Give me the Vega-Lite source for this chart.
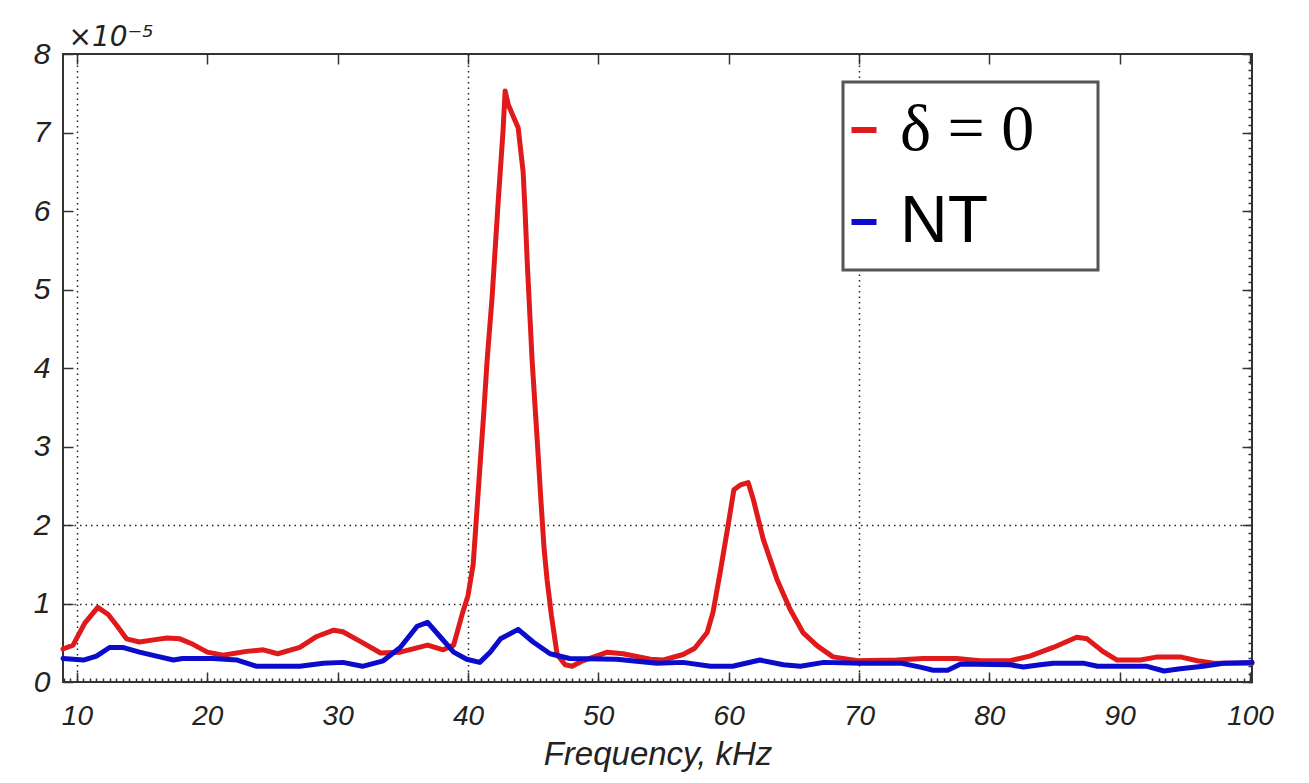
{
  "$schema": "https://vega.github.io/schema/vega-lite/v6.json",
  "width": 1189,
  "height": 628,
  "autosize": {"type": "none"},
  "padding": {"left": 63, "top": 54, "right": 57, "bottom": 101},
  "background": "white",
  "config": {
    "view": {"stroke": "#333", "strokeWidth": 2},
    "axis": {"domain": false, "tickColor": "#333", "tickWidth": 1.5, "grid": false}
  },
  "data": {"values": [
    {"f": 8.93, "amp": 0.42, "series": "δ = 0"},
    {"f": 9.7, "amp": 0.47, "series": "δ = 0"},
    {"f": 10.6, "amp": 0.75, "series": "δ = 0"},
    {"f": 11.6, "amp": 0.95, "series": "δ = 0"},
    {"f": 12.4, "amp": 0.86, "series": "δ = 0"},
    {"f": 13.1, "amp": 0.71, "series": "δ = 0"},
    {"f": 13.8, "amp": 0.55, "series": "δ = 0"},
    {"f": 14.8, "amp": 0.51, "series": "δ = 0"},
    {"f": 16.0, "amp": 0.54, "series": "δ = 0"},
    {"f": 16.9, "amp": 0.56, "series": "δ = 0"},
    {"f": 17.9, "amp": 0.55, "series": "δ = 0"},
    {"f": 18.9, "amp": 0.48, "series": "δ = 0"},
    {"f": 20.0, "amp": 0.38, "series": "δ = 0"},
    {"f": 21.2, "amp": 0.34, "series": "δ = 0"},
    {"f": 23.0, "amp": 0.39, "series": "δ = 0"},
    {"f": 24.3, "amp": 0.41, "series": "δ = 0"},
    {"f": 25.4, "amp": 0.36, "series": "δ = 0"},
    {"f": 27.1, "amp": 0.44, "series": "δ = 0"},
    {"f": 28.4, "amp": 0.58, "series": "δ = 0"},
    {"f": 29.7, "amp": 0.66, "series": "δ = 0"},
    {"f": 30.4, "amp": 0.64, "series": "δ = 0"},
    {"f": 31.7, "amp": 0.52, "series": "δ = 0"},
    {"f": 33.3, "amp": 0.37, "series": "δ = 0"},
    {"f": 34.8, "amp": 0.38, "series": "δ = 0"},
    {"f": 36.9, "amp": 0.47, "series": "δ = 0"},
    {"f": 38.1, "amp": 0.41, "series": "δ = 0"},
    {"f": 38.9, "amp": 0.47, "series": "δ = 0"},
    {"f": 39.6, "amp": 0.89, "series": "δ = 0"},
    {"f": 40.0, "amp": 1.1, "series": "δ = 0"},
    {"f": 40.4, "amp": 1.5, "series": "δ = 0"},
    {"f": 40.9, "amp": 2.7, "series": "δ = 0"},
    {"f": 41.2, "amp": 3.4, "series": "δ = 0"},
    {"f": 41.47, "amp": 4.1, "series": "δ = 0"},
    {"f": 41.85, "amp": 4.9, "series": "δ = 0"},
    {"f": 42.08, "amp": 5.5, "series": "δ = 0"},
    {"f": 42.31, "amp": 6.1, "series": "δ = 0"},
    {"f": 42.69, "amp": 7.02, "series": "δ = 0"},
    {"f": 42.85, "amp": 7.53, "series": "δ = 0"},
    {"f": 43.1, "amp": 7.35, "series": "δ = 0"},
    {"f": 43.85, "amp": 7.06, "series": "δ = 0"},
    {"f": 44.23, "amp": 6.5, "series": "δ = 0"},
    {"f": 44.38, "amp": 6.0, "series": "δ = 0"},
    {"f": 44.54, "amp": 5.37, "series": "δ = 0"},
    {"f": 44.77, "amp": 4.6, "series": "δ = 0"},
    {"f": 44.92, "amp": 4.1, "series": "δ = 0"},
    {"f": 45.15, "amp": 3.5, "series": "δ = 0"},
    {"f": 45.38, "amp": 2.9, "series": "δ = 0"},
    {"f": 45.6, "amp": 2.3, "series": "δ = 0"},
    {"f": 45.84, "amp": 1.7, "series": "δ = 0"},
    {"f": 46.07, "amp": 1.3, "series": "δ = 0"},
    {"f": 46.4, "amp": 0.85, "series": "δ = 0"},
    {"f": 46.84, "amp": 0.35, "series": "δ = 0"},
    {"f": 47.45, "amp": 0.22, "series": "δ = 0"},
    {"f": 48.0, "amp": 0.2, "series": "δ = 0"},
    {"f": 48.8, "amp": 0.27, "series": "δ = 0"},
    {"f": 50.7, "amp": 0.38, "series": "δ = 0"},
    {"f": 51.9, "amp": 0.36, "series": "δ = 0"},
    {"f": 54.0, "amp": 0.29, "series": "δ = 0"},
    {"f": 55.0, "amp": 0.28, "series": "δ = 0"},
    {"f": 56.5, "amp": 0.35, "series": "δ = 0"},
    {"f": 57.4, "amp": 0.43, "series": "δ = 0"},
    {"f": 58.35, "amp": 0.63, "series": "δ = 0"},
    {"f": 58.8, "amp": 0.89, "series": "δ = 0"},
    {"f": 59.35, "amp": 1.4, "series": "δ = 0"},
    {"f": 59.9, "amp": 1.94, "series": "δ = 0"},
    {"f": 60.4, "amp": 2.45, "series": "δ = 0"},
    {"f": 60.9, "amp": 2.51, "series": "δ = 0"},
    {"f": 61.5, "amp": 2.54, "series": "δ = 0"},
    {"f": 61.9, "amp": 2.32, "series": "δ = 0"},
    {"f": 62.65, "amp": 1.82, "series": "δ = 0"},
    {"f": 63.7, "amp": 1.31, "series": "δ = 0"},
    {"f": 64.7, "amp": 0.93, "series": "δ = 0"},
    {"f": 65.7, "amp": 0.63, "series": "δ = 0"},
    {"f": 66.8, "amp": 0.46, "series": "δ = 0"},
    {"f": 68.0, "amp": 0.32, "series": "δ = 0"},
    {"f": 69.9, "amp": 0.27, "series": "δ = 0"},
    {"f": 72.9, "amp": 0.28, "series": "δ = 0"},
    {"f": 74.9, "amp": 0.3, "series": "δ = 0"},
    {"f": 77.5, "amp": 0.3, "series": "δ = 0"},
    {"f": 79.3, "amp": 0.27, "series": "δ = 0"},
    {"f": 81.6, "amp": 0.27, "series": "δ = 0"},
    {"f": 83.1, "amp": 0.33, "series": "δ = 0"},
    {"f": 84.9, "amp": 0.44, "series": "δ = 0"},
    {"f": 86.7, "amp": 0.57, "series": "δ = 0"},
    {"f": 87.5, "amp": 0.55, "series": "δ = 0"},
    {"f": 88.7, "amp": 0.39, "series": "δ = 0"},
    {"f": 89.8, "amp": 0.28, "series": "δ = 0"},
    {"f": 91.6, "amp": 0.28, "series": "δ = 0"},
    {"f": 92.9, "amp": 0.32, "series": "δ = 0"},
    {"f": 94.65, "amp": 0.32, "series": "δ = 0"},
    {"f": 95.95, "amp": 0.27, "series": "δ = 0"},
    {"f": 97.2, "amp": 0.24, "series": "δ = 0"},
    {"f": 100.15, "amp": 0.24, "series": "δ = 0"},
    {"f": 8.93, "amp": 0.3, "series": "NT"},
    {"f": 10.5, "amp": 0.28, "series": "NT"},
    {"f": 11.5, "amp": 0.33, "series": "NT"},
    {"f": 12.5, "amp": 0.44, "series": "NT"},
    {"f": 13.5, "amp": 0.44, "series": "NT"},
    {"f": 14.8, "amp": 0.38, "series": "NT"},
    {"f": 16.1, "amp": 0.33, "series": "NT"},
    {"f": 17.4, "amp": 0.28, "series": "NT"},
    {"f": 18.1, "amp": 0.3, "series": "NT"},
    {"f": 20.4, "amp": 0.3, "series": "NT"},
    {"f": 22.3, "amp": 0.28, "series": "NT"},
    {"f": 23.8, "amp": 0.2, "series": "NT"},
    {"f": 27.1, "amp": 0.2, "series": "NT"},
    {"f": 28.9, "amp": 0.24, "series": "NT"},
    {"f": 30.4, "amp": 0.25, "series": "NT"},
    {"f": 31.9, "amp": 0.2, "series": "NT"},
    {"f": 33.5, "amp": 0.27, "series": "NT"},
    {"f": 34.8, "amp": 0.44, "series": "NT"},
    {"f": 36.1, "amp": 0.71, "series": "NT"},
    {"f": 36.9, "amp": 0.76, "series": "NT"},
    {"f": 37.9, "amp": 0.57, "series": "NT"},
    {"f": 38.9, "amp": 0.38, "series": "NT"},
    {"f": 39.9, "amp": 0.29, "series": "NT"},
    {"f": 40.9, "amp": 0.25, "series": "NT"},
    {"f": 41.7, "amp": 0.38, "series": "NT"},
    {"f": 42.5, "amp": 0.55, "series": "NT"},
    {"f": 43.85, "amp": 0.67, "series": "NT"},
    {"f": 45.0, "amp": 0.51, "series": "NT"},
    {"f": 46.3, "amp": 0.36, "series": "NT"},
    {"f": 47.8, "amp": 0.3, "series": "NT"},
    {"f": 51.4, "amp": 0.29, "series": "NT"},
    {"f": 54.5, "amp": 0.24, "series": "NT"},
    {"f": 56.5, "amp": 0.25, "series": "NT"},
    {"f": 58.6, "amp": 0.2, "series": "NT"},
    {"f": 60.3, "amp": 0.2, "series": "NT"},
    {"f": 62.4, "amp": 0.28, "series": "NT"},
    {"f": 64.2, "amp": 0.22, "series": "NT"},
    {"f": 65.5, "amp": 0.2, "series": "NT"},
    {"f": 67.3, "amp": 0.25, "series": "NT"},
    {"f": 70.1, "amp": 0.24, "series": "NT"},
    {"f": 73.2, "amp": 0.24, "series": "NT"},
    {"f": 74.7, "amp": 0.19, "series": "NT"},
    {"f": 75.7, "amp": 0.15, "series": "NT"},
    {"f": 76.8, "amp": 0.15, "series": "NT"},
    {"f": 77.8, "amp": 0.23, "series": "NT"},
    {"f": 81.6, "amp": 0.22, "series": "NT"},
    {"f": 82.6, "amp": 0.19, "series": "NT"},
    {"f": 83.9, "amp": 0.22, "series": "NT"},
    {"f": 84.9, "amp": 0.24, "series": "NT"},
    {"f": 87.2, "amp": 0.24, "series": "NT"},
    {"f": 88.3, "amp": 0.2, "series": "NT"},
    {"f": 92.1, "amp": 0.2, "series": "NT"},
    {"f": 93.4, "amp": 0.14, "series": "NT"},
    {"f": 94.65, "amp": 0.17, "series": "NT"},
    {"f": 96.4, "amp": 0.2, "series": "NT"},
    {"f": 97.95, "amp": 0.24, "series": "NT"},
    {"f": 100.15, "amp": 0.25, "series": "NT"}
  ]},
  "layer": [
    {
      "mark": {"type": "line", "strokeOpacity": 0},
      "encoding": {
        "x": {"field": "f", "type": "quantitative", "scale": {"domain": [8.93, 100.15], "nice": false, "zero": false},
              "axis": {"orient": "bottom", "values": [10, 40, 70], "grid": true, "gridDash": [1.5, 4], "gridColor": "#222", "gridWidth": 1.5, "gridOpacity": 1, "ticks": false, "labels": false, "domain": false, "title": null}},
        "y": {"field": "amp", "type": "quantitative", "scale": {"domain": [0, 8], "nice": false},
              "axis": {"orient": "left", "values": [1, 2], "grid": true, "gridDash": [1.5, 4], "gridColor": "#222", "gridWidth": 1.5, "gridOpacity": 1, "ticks": false, "labels": false, "domain": false, "title": null}},
        "detail": {"field": "series"}
      }
    },
    {
      "mark": {"type": "line", "strokeOpacity": 0},
      "encoding": {
        "x": {"field": "f", "type": "quantitative",
              "axis": {"orient": "bottom", "tickCount": 182, "tickSize": -4, "labels": false, "domain": false, "grid": false, "title": null}},
        "y": {"field": "amp", "type": "quantitative",
              "axis": {"orient": "right", "tickCount": 80, "tickSize": -4, "labels": false, "domain": false, "grid": false, "title": null}},
        "detail": {"field": "series"}
      }
    },
    {
      "mark": {"type": "line", "strokeOpacity": 0},
      "encoding": {
        "x": {"field": "f", "type": "quantitative",
              "axis": {"orient": "top", "values": [10, 20, 30, 40, 50, 60, 70, 80, 90, 100], "tickSize": -10, "labels": false, "domain": false, "grid": false, "title": null}},
        "y": {"field": "amp", "type": "quantitative",
              "axis": {"orient": "right", "values": [0, 1, 2, 3, 4, 5, 6, 7, 8], "tickSize": -10, "labels": false, "domain": false, "grid": false, "title": null}},
        "detail": {"field": "series"}
      }
    },
    {
      "mark": {"type": "line", "strokeWidth": 5, "strokeJoin": "round", "strokeCap": "round"},
      "encoding": {
        "x": {"field": "f", "type": "quantitative",
              "axis": {"orient": "bottom", "values": [10, 20, 30, 40, 50, 60, 70, 80, 90, 100], "tickSize": -10, "labelPadding": 30,
                       "labelFont": "Liberation Sans", "labelFontStyle": "italic", "labelFontSize": 28, "labelColor": "#222",
                       "labelFlush": false, "labelOverlap": false, "grid": false, "domain": false,
                       "title": "Frequency, kHz", "titleFont": "Liberation Sans", "titleFontStyle": "italic", "titleFontWeight": "normal",
                       "titleFontSize": 33, "titleColor": "#222", "titleY": 82, "titleBaseline": "alphabetic"}},
        "y": {"field": "amp", "type": "quantitative",
              "axis": {"orient": "left", "values": [0, 1, 2, 3, 4, 5, 6, 7, 8], "tickSize": -10, "labelPadding": 23,
                       "labelFont": "Liberation Sans", "labelFontStyle": "italic", "labelFontSize": 30, "labelColor": "#222",
                       "labelFlush": false, "labelOverlap": false, "grid": false, "domain": false,
                       "title": "×10⁻⁵", "titleAngle": 0, "titleX": 5, "titleY": -9, "titleAlign": "left", "titleBaseline": "alphabetic",
                       "titleFont": "DejaVu Sans", "titleFontStyle": "italic", "titleFontWeight": "normal", "titleFontSize": 28, "titleColor": "#222"}},
        "color": {"field": "series", "type": "nominal",
                  "scale": {"domain": ["δ = 0", "NT"], "range": ["#e0191b", "#0b0bcc"]},
                  "legend": {"orient": "none", "legendX": 780, "legendY": 28, "title": null,
                             "symbolType": "stroke", "symbolSize": 625, "symbolStrokeWidth": 6, "symbolOffset": -27,
                             "labelFontSize": 66, "labelFont": "Liberation Serif", "labelColor": "black", "labelLimit": 400,
                             "labelExpr": "datum.label == 'NT' ? datum.label : datum.label + '\u2800'",
                             "padding": 15, "rowPadding": 26, "labelOffset": 3,
                             "strokeColor": "#555", "fillColor": "white",
                             "encode": {
                               "labels": {"update": {
                                 "font": {"signal": "datum.label == 'NT' ? 'Liberation Sans' : 'Liberation Serif'"},
                                 "fontSize": {"value": 66}
                               }},
                               "legend": {"update": {"strokeWidth": {"value": 3}}}
                             }}}
      }
    }
  ],
  "resolve": {"axis": {"x": "independent", "y": "independent"}}
}
